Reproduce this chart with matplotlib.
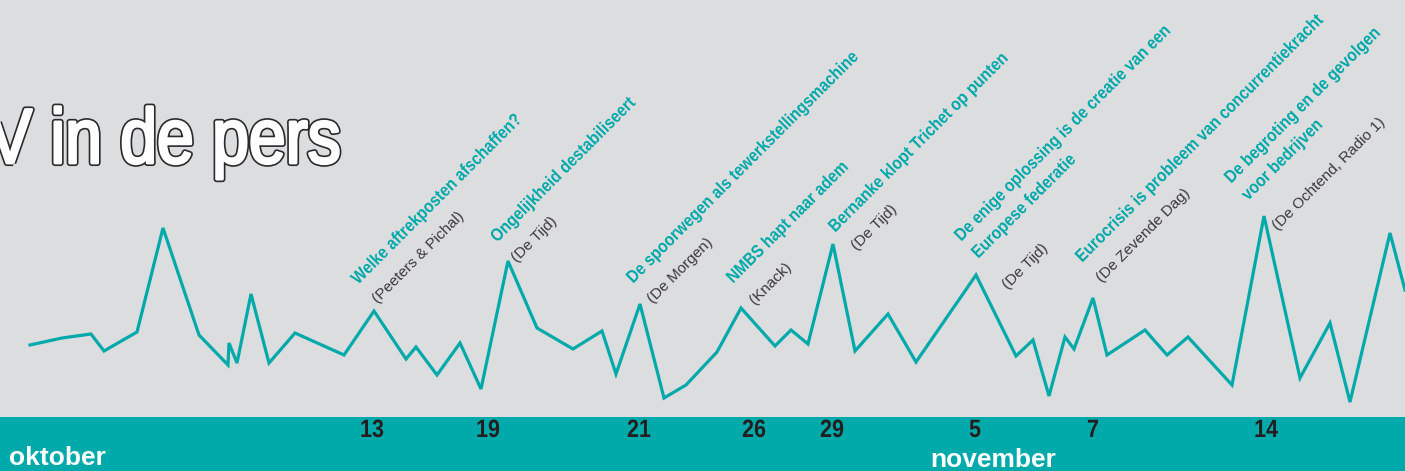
import matplotlib
matplotlib.use("Agg")
import matplotlib.pyplot as plt
import matplotlib.patheffects as pe
from matplotlib.transforms import Affine2D

# --- data ----------------------------------------------------------------
# position along the (non-linear) time axis, and relative press volume
pos = [30, 62, 91, 104, 137, 163, 199, 228, 229, 237, 251, 269, 295, 344,
       374, 406, 416, 437, 460, 481, 508, 537, 573, 602, 616, 640, 664, 686,
       717, 741, 775, 791, 808, 833, 855, 888, 916, 976, 1016, 1033, 1049,
       1065, 1074, 1093, 1107, 1145, 1167, 1188, 1232, 1264, 1300, 1330,
       1350, 1390, 1405]
volume = [72, 79, 83, 66, 85, 189, 82, 52, 74, 54, 123, 54, 84, 62,
          106, 58, 70, 42, 74, 28, 156, 89, 68, 86, 43, 113, 19, 32,
          65, 109, 71, 87, 73, 173, 66, 103, 55, 142, 61, 77, 21,
          80, 68, 119, 62, 87, 62, 80, 32, 201, 39, 94,
          15, 184, 127]

day_pos = [372, 488, 639, 754, 832, 975, 1093, 1266]
day_labels = ["13", "19", "21", "26", "29", "5", "7", "14"]

headlines = [
    "Welke aftrekposten afschaffen?",
    "Ongelijkheid destabiliseert",
    "De spoorwegen als tewerkstellingsmachine",
    "NMBS hapt naar adem",
    "Bernanke klopt Trichet op punten",
    "De enige oplossing is de creatie van een\nEuropese federatie",
    "Eurocrisis is probleem van concurrentiekracht",
    "De begroting en de gevolgen\nvoor bedrijven",
]
sources = ["(Peeters & Pichal)", "(De Tijd)", "(De Morgen)", "(Knack)",
           "(De Tijd)", "(De Tijd)", "(De Zevende Dag)", "(De Ochtend, Radio 1)"]
head_x = [358, 497, 633, 733, 835, 973, 1082, 1243]
head_y = [132, 174, 133, 133, 184, 163, 154, 221]
src_x = [378, 517, 653, 755, 857, 1008, 1102, 1278]
src_y = [113, 154, 113, 112, 166, 127, 134, 186]

months = ["oktober", "november"]
month_pos = [9, 930]
month_y = [-48, -50]

# --- style ---------------------------------------------------------------
BG = "#dcdddf"
TEAL = "#00a9aa"
DARK = "#231f20"
SANS = ["Liberation Sans", "DejaVu Sans"]


class Squeeze(pe.AbstractPathEffect):
    """Narrow the glyphs horizontally (no condensed font installed).
    Optional outline: dark stroke, then a white stroke to embolden."""

    def __init__(self, sx, anchor=0.0, strokes=()):
        super().__init__()
        self.sx, self.anchor, self.strokes = sx, anchor, strokes

    def draw_path(self, renderer, gc, tpath, affine, rgbFace=None):
        ext = tpath.get_extents()
        x0 = ext.x0 + self.anchor * ext.width
        tr = Affine2D().translate(-x0, 0).scale(self.sx, 1).translate(x0, 0) + affine
        for color, lw in self.strokes:
            gc0 = renderer.new_gc()
            gc0.copy_properties(gc)
            gc0.set_foreground(color)
            gc0.set_linewidth(lw)
            gc0.set_joinstyle("round")
            renderer.draw_path(gc0, tpath, tr, None)
            gc0.restore()
        renderer.draw_path(gc, tpath, tr, rgbFace)


fig = plt.figure(figsize=(14.05, 4.71), dpi=100, facecolor=BG)
ax = fig.add_axes([0, 0, 1, 1])
ax.set_facecolor(BG)
ax.set_xlim(0, 1405)
ax.set_ylim(-54, 417)
ax.axis("off")

# bottom band
ax.axhspan(-54, 0, color=TEAL, lw=0)

ax.plot(pos, volume, color=TEAL, lw=2.3, solid_joinstyle="miter", clip_on=False)

for x, lab in zip(day_pos, day_labels):
    ax.text(x, -13, lab, family=SANS, weight="bold", fontsize=18,
            color=DARK, ha="center", va="center",
            path_effects=[Squeeze(0.86, anchor=0.5)])

for x, m, y in zip(month_pos, months, month_y):
    ax.text(x, y, m, family=SANS, weight="bold", fontsize=19,
            color="white", ha="left", va="baseline")

for h, hx, hy in zip(headlines, head_x, head_y):
    ax.text(hx, hy, h, family=SANS, weight="bold", fontsize=12.8,
            color=TEAL, rotation=45, rotation_mode="anchor",
            ha="left", va="baseline", linespacing=1.55,
            path_effects=[Squeeze(0.87)])

for s, sx, sy in zip(sources, src_x, src_y):
    ax.text(sx, sy, s, family=SANS, fontsize=11, color="#3a3a3a",
            rotation=45, rotation_mode="anchor", ha="left", va="baseline")

# title, partly cut off at the left edge
ax.text(341, 254, "V in de pers", family=SANS, fontsize=56,
        color="white", ha="right", va="baseline",
        path_effects=[Squeeze(0.85, anchor=1.0,
                              strokes=[("#2a2a2a", 4.4), ("white", 2.0)])])

fig.savefig("out.png", dpi=100, facecolor=BG)
